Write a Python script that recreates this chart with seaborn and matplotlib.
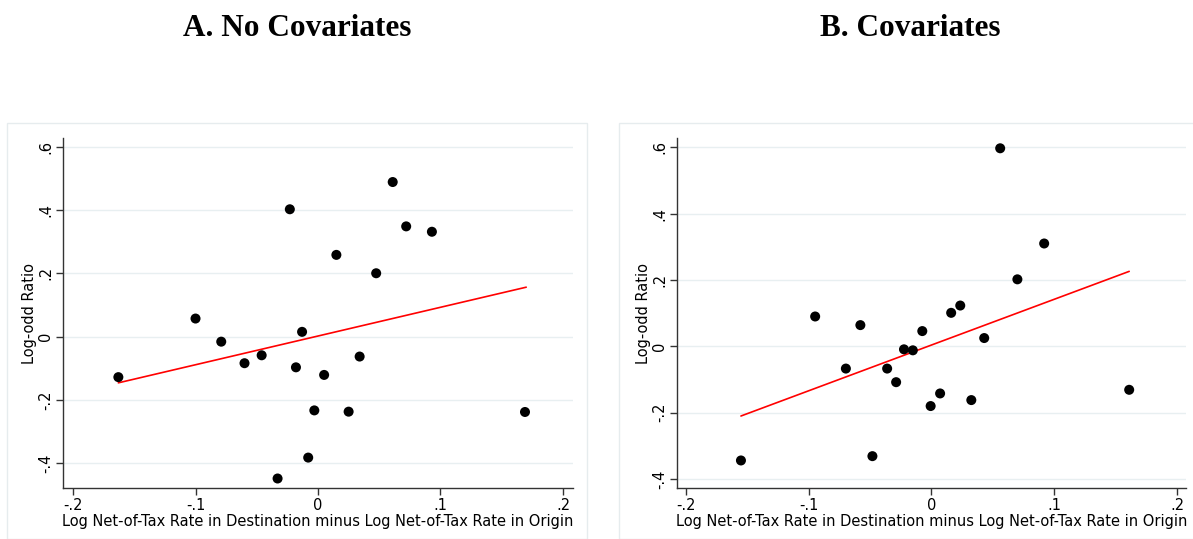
# dva panely: log-odd ratio vs. rozdil log net-of-tax rate (bez / s kovariatami)
# body i koncove body fitovane cary

import pandas as pd
import seaborn as sns
import matplotlib.pyplot as plt
from matplotlib.patches import Rectangle

# --- data panel A (bez kovariat) ---
a_x = [-0.163, -0.100, -0.079, -0.060, -0.046, -0.023, -0.018, -0.013, -0.008, -0.033,
       -0.003, 0.005, 0.015, 0.025, 0.034, 0.0475, 0.061, 0.072, 0.093, 0.169]
a_y = [-0.128, 0.057, -0.016, -0.084, -0.059, 0.402, -0.097, 0.015, -0.382, -0.448,
       -0.233, -0.121, 0.258, -0.237, -0.063, 0.200, 0.488, 0.348, 0.331, -0.238]
# fitovana cara A (konce)
a_fit_x = [-0.163, 0.170]
a_fit_y = [-0.146, 0.156]

# --- data panel B (s kovariatami) ---
b_x = [-0.155, -0.0946, -0.0696, -0.0578, -0.048, -0.036, -0.0287, -0.0223, -0.0151, -0.0074,
       -0.0006, 0.0071, 0.0161, 0.0235, 0.0325, 0.043, 0.056, 0.070, 0.0918, 0.161]
b_y = [-0.344, 0.090, -0.067, 0.064, -0.331, -0.067, -0.108, -0.009, -0.012, 0.046,
       -0.180, -0.142, 0.101, 0.123, -0.162, 0.025, 0.597, 0.202, 0.310, -0.131]
# fitovana cara B (konce)
b_fit_x = [-0.155, 0.161]
b_fit_y = [-0.210, 0.226]

tituly = ['A. No Covariates', 'B. Covariates']
x_popisek = 'Log Net-of-Tax Rate in Destination minus Log Net-of-Tax Rate in Origin'
y_popisek = 'Log-odd Ratio'

x_ticks = [-0.2, -0.1, 0, 0.1, 0.2]
x_tick_labels = ['-.2', '-.1', '0', '.1', '.2']
y_ticks = [-0.4, -0.2, 0, 0.2, 0.4, 0.6]
y_tick_labels = ['-.4', '-.2', '0', '.2', '.4', '.6']

df_a = pd.DataFrame({'x': a_x, 'y': a_y})
df_b = pd.DataFrame({'x': b_x, 'y': b_y})
fit_a = pd.DataFrame({'x': a_fit_x, 'y': a_fit_y})
fit_b = pd.DataFrame({'x': b_fit_x, 'y': b_fit_y})

sns.set_style('white')
plt.rcParams['font.family'] = ['DejaVu Sans']
plt.rcParams['text.color'] = 'black'
plt.rcParams['axes.labelcolor'] = 'black'
plt.rcParams['xtick.color'] = 'black'
plt.rcParams['ytick.color'] = 'black'

fig = plt.figure(figsize=(11.93, 5.39), dpi=100)

# ramecky okolo panelu (jako stata graph region)
fig.patches.append(Rectangle((7/1193, 0.0), 580/1193, 1 - 123/539, transform=fig.transFigure,
                             facecolor='none', edgecolor='#e6ecee', lw=1.0))
fig.patches.append(Rectangle((619/1193, 0.0), 600/1193, 1 - 123/539, transform=fig.transFigure,
                             facecolor='none', edgecolor='#e6ecee', lw=1.0))

ax_a = fig.add_axes([63/1193, 1 - 488/539, 510/1193, 350/539])
ax_b = fig.add_axes([676.7/1193, 1 - 488/539, 509/1193, 350/539])

panely = [(ax_a, df_a, fit_a, (-0.478, 0.627), (-0.2082, 0.2082)),
          (ax_b, df_b, fit_b, (-0.427, 0.628), (-0.2073, 0.207))]

for ax, df, fit, ylim, xlim in panely:
    sns.lineplot(data=fit, x='x', y='y', ax=ax, color='#ff0000', lw=1.2, zorder=2)
    sns.scatterplot(data=df, x='x', y='y', ax=ax, s=52, color='black',
                    edgecolor='none', zorder=3)
    ax.set_xlim(xlim)
    ax.set_ylim(ylim)
    ax.set_xticks(x_ticks)
    ax.set_xticklabels(x_tick_labels)
    ax.set_yticks(y_ticks)
    ax.set_yticklabels(y_tick_labels, rotation=90, va='center')
    # jen vodorovna mrizka
    ax.yaxis.grid(True, color='#e8eff1', lw=1.0)
    ax.xaxis.grid(False)
    ax.set_axisbelow(True)
    for s in ['top', 'right']:
        ax.spines[s].set_visible(False)
    for s in ['left', 'bottom']:
        ax.spines[s].set_color('#333333')
        ax.spines[s].set_linewidth(1.0)
    ax.tick_params(axis='both', which='major', direction='out', length=5, width=1,
                   color='#333333', labelsize=10.5, pad=2, left=True, bottom=True)
    ax.set_xlabel(x_popisek, fontsize=10.5, labelpad=1)
    ax.set_ylabel(y_popisek, fontsize=10.5, labelpad=1)

fig.text(297/1193, 1 - 28/539, tituly[0], ha='center', va='center', color='black',
         fontsize=22.5, fontweight='bold', family=['Liberation Serif', 'DejaVu Serif'])
fig.text(910/1193, 1 - 28/539, tituly[1], ha='center', va='center', color='black',
         fontsize=22.5, fontweight='bold', family=['Liberation Serif', 'DejaVu Serif'])

plt.savefig('out.png', dpi=100)
